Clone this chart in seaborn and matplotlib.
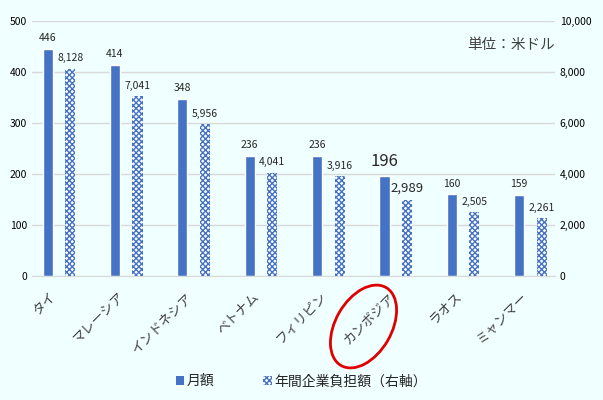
import pandas as pd
import matplotlib.pyplot as plt
import seaborn as sns
from matplotlib.patches import Ellipse
from matplotlib.ticker import FuncFormatter
from matplotlib.transforms import ScaledTranslation

# データ
countries = ['タイ', 'マレーシア', 'インドネシア', 'ベトナム', 'フィリピン', 'カンボジア', 'ラオス', 'ミャンマー']
monthly = [446, 414, 348, 236, 236, 196, 160, 159]
annual = [8128, 7041, 5956, 4041, 3916, 2989, 2505, 2261]
series_names = ['月額', '年間企業負担額（右軸）']

df_m = pd.DataFrame({'country': countries, 'value': monthly, 'series': series_names[0]})
df_a = pd.DataFrame({'country': countries, 'value': annual, 'series': series_names[1]})

bg = '#F0FFFF'
blue = '#4472C4'

sns.set_style('white')
plt.rcParams['font.family'] = ['Noto Sans CJK JP', 'DejaVu Sans']
plt.rcParams['hatch.linewidth'] = 1.0

fig = plt.figure(figsize=(6.03, 4.0), dpi=100, facecolor=bg)
ax = fig.add_axes([0.053, 0.31, 0.867, 0.6375])
ax.set_facecolor(bg)
ax2 = ax.twinx()

sns.barplot(data=df_m, x='country', y='value', hue='series', hue_order=series_names,
            palette=[blue, blue], width=0.67, gap=0.55, dodge=True, ax=ax,
            legend=False, saturation=1)
sns.barplot(data=df_a, x='country', y='value', hue='series', hue_order=series_names,
            palette=['white', 'white'], width=0.67, gap=0.55, dodge=True, ax=ax2,
            legend=False, saturation=1)
for p in ax2.patches:
    p.set_edgecolor(blue)
    p.set_hatch('xxxxxx')
    p.set_linewidth(0)

ax.set_ylim(0, 500)
ax2.set_ylim(0, 10000)
ax.set_xlim(-0.4, 7.36)
ax.set_yticks(range(0, 501, 100))
ax2.set_yticks(range(0, 10001, 2000))
ax2.yaxis.set_major_formatter(FuncFormatter(lambda v, p: f'{int(v):,}'))
ax.grid(axis='y', color='#D9D9D9', linewidth=1)
ax.set_axisbelow(True)
for a in (ax, ax2):
    for s in a.spines.values():
        s.set_visible(False)
    a.set_xlabel('')
    a.set_ylabel('')
    a.tick_params(length=0, labelsize=7.5, colors='#404040')
ax.spines['bottom'].set_visible(True)
ax.spines['bottom'].set_color('#D9D9D9')
ax.tick_params(axis='y', labelcolor='black')
ax2.tick_params(axis='y', labelcolor='black')
ax.set_xticks(range(len(countries)))
ax.set_xticklabels(countries, rotation=45, ha='right', rotation_mode='anchor',
                   fontsize=9.5, color='#404040')
ax.tick_params(axis='x', pad=10)
shift = ScaledTranslation(-6 / 72, 0, fig.dpi_scale_trans)
for lbl in ax.get_xticklabels():
    lbl.set_transform(lbl.get_transform() + shift)

# データラベル
t1 = ax.bar_label(ax.containers[0], labels=[f'{v:,}' for v in monthly], padding=4, fontsize=7.5)
t2 = ax2.bar_label(ax2.containers[1], labels=[f'{v:,}' for v in annual], padding=4, fontsize=7.5)
t1[5].set_fontsize(12)
t2[5].set_fontsize(9.5)

fig.text(0.92, 0.8875, '単位：米ドル', ha='right', va='center', fontsize=10.5, color='#404040')

# カンボジアを赤丸で囲む
fig.add_artist(Ellipse((3.635, 0.735), width=0.90, height=0.56, angle=60,
                       transform=fig.dpi_scale_trans, fill=False, edgecolor='#E00000', linewidth=2))

# 凡例
h1 = plt.Rectangle((0, 0), 1, 1, facecolor=blue, edgecolor='none')
h2 = plt.Rectangle((0, 0), 1, 1, facecolor='white', edgecolor=blue, hatch='xxxxxx', linewidth=0)
fig.legend([h1, h2], series_names, loc='center', bbox_to_anchor=(0.5, 0.047), ncol=2,
           frameon=False, fontsize=10, handlelength=0.6, handleheight=0.6,
           handletextpad=0.2, columnspacing=3.5)

fig.savefig('out.png', dpi=100, facecolor=bg)
